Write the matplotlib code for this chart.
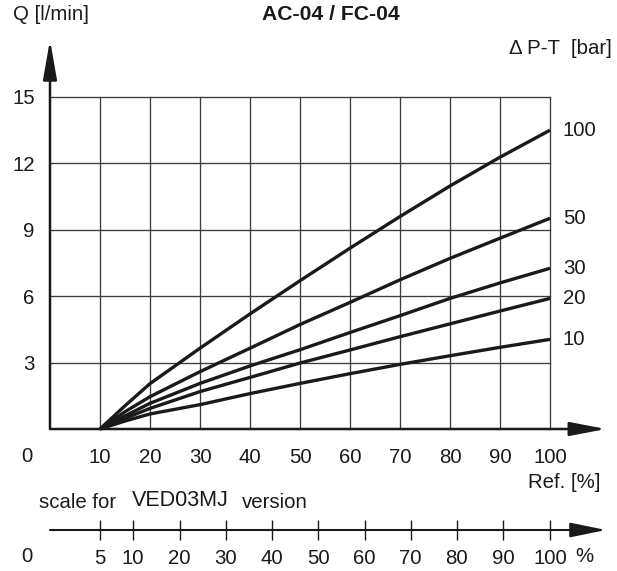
import numpy as np
import matplotlib
matplotlib.use("Agg")
import matplotlib.pyplot as plt

plt.rcParams["font.family"] = ["Liberation Sans", "DejaVu Sans"]

# Flow Q [l/min] versus reference signal [%] for each pressure drop ΔP-T [bar]
ref_pct = [10, 15, 20, 30, 40, 50, 60, 70, 80, 90, 100]
dp_labels = ["100", "50", "30", "20", "10"]
q_dp100 = [0, 1.05, 2.05, 3.65, 5.2, 6.7, 8.17, 9.6, 10.98, 12.28, 13.5]
q_dp50 = [0, 0.78, 1.46, 2.59, 3.65, 4.72, 5.72, 6.74, 7.71, 8.62, 9.52]
q_dp30 = [0, 0.59, 1.16, 2.06, 2.85, 3.58, 4.36, 5.12, 5.9, 6.6, 7.26]
q_dp20 = [0, 0.48, 0.93, 1.69, 2.33, 2.98, 3.57, 4.17, 4.75, 5.33, 5.9]
q_dp10 = [0, 0.36, 0.68, 1.1, 1.6, 2.06, 2.5, 2.92, 3.31, 3.69, 4.05]
curves = [q_dp100, q_dp50, q_dp30, q_dp20, q_dp10]

x_ticks = [10, 20, 30, 40, 50, 60, 70, 80, 90, 100]
y_ticks = [3, 6, 9, 12, 15]

# VED03MJ scale and the matching Ref. [%] value of each of its ticks
ved_ticks = [5, 10, 20, 30, 40, 50, 60, 70, 80, 90, 100]
ved_on_ref = [10, 16.6, 25.9, 35.1, 44.3, 53.6, 62.9, 72.1, 81.3, 90.6, 100]

W, H = 617, 571
fig = plt.figure(figsize=(W / 100, H / 100), dpi=100)


def fx(px):
    return px / W


def fy(py):
    return 1 - py / H


ink = "#1a1a1a"
grid_c = "#3c3c3c"
fs = 14.7

# main chart
ax = fig.add_axes([fx(50), fy(429), 500 / W, 332 / H])
ax.set_xlim(0, 100)
ax.set_ylim(0, 15)
ax.set_xticks(x_ticks)
ax.set_yticks(y_ticks)
ax.grid(True, color=grid_c, lw=0.95)
for gl in ax.get_xgridlines() + ax.get_ygridlines():
    gl.set_clip_on(False)
for s in ax.spines.values():
    s.set_visible(False)
ax.tick_params(length=0, labelsize=fs, colors=ink)
ax.tick_params(axis="x", pad=14)
ax.tick_params(axis="y", pad=11)

for q, lab in zip(curves, dp_labels):
    ax.plot(ref_pct, q, color=ink, lw=2.4, solid_capstyle="butt",
            solid_joinstyle="round", clip_on=False, zorder=3)
    ax.text(102.6, q[-1], lab, ha="left", va="center", fontsize=fs, color=ink)

arrow_kw = dict(lw=1.8, color=ink, shrinkA=0, shrinkB=0, mutation_scale=10)
ax.annotate("", xy=(0, 17.58), xytext=(0, 0),
            arrowprops=dict(arrowstyle="-|>,head_length=2.4,head_width=0.42", **arrow_kw),
            annotation_clip=False)
ax.annotate("", xy=(111.2, 0), xytext=(0, 0),
            arrowprops=dict(arrowstyle="-|>,head_length=2.2,head_width=0.42", **arrow_kw),
            annotation_clip=False)

# VED03MJ scale
ax2 = fig.add_axes([fx(50), fy(530), 500 / W, 10 / H])
ax2.set_xlim(0, 100)
ax2.set_ylim(0, 1)
ax2.patch.set_visible(False)
for s in ax2.spines.values():
    s.set_visible(False)
ax2.set_yticks([])
ax2.set_xticks(ved_on_ref)
ax2.set_xticklabels([str(v) for v in ved_ticks])
ax2.tick_params(axis="x", direction="inout", length=15, width=1.0, color=ink,
                labelsize=fs, labelcolor=ink, pad=6)
ax2.annotate("", xy=(111.2, 0), xytext=(0, 0),
             xycoords=("data", "axes fraction"), textcoords=("data", "axes fraction"),
             arrowprops=dict(arrowstyle="-|>,head_length=2.2,head_width=0.45",
                             lw=1.5, color=ink, shrinkA=0, shrinkB=0, mutation_scale=10),
             annotation_clip=False)

# labels and captions
fig.text(fx(13), fy(15), "Q [l/min]", ha="left", va="center", fontsize=fs, color=ink)
fig.text(fx(331), fy(15), "AC-04 / FC-04", ha="center", va="center",
         fontsize=15.2, fontweight="bold", color=ink)
fig.text(fx(612), fy(48), "\u0394 P-T  [bar]", ha="right", va="center", fontsize=fs, color=ink)
fig.text(fx(27), fy(457), "0", ha="center", va="center", fontsize=fs, color=ink)
fig.text(fx(600), fy(482), "Ref. [%]", ha="right", va="center", fontsize=fs, color=ink)
fig.text(fx(39), fy(502), "scale for", ha="left", va="center", fontsize=fs, color=ink)
fig.text(fx(132), fy(500), "VED03MJ", ha="left", va="center", fontsize=15.5, color=ink)
fig.text(fx(242), fy(502), "version", ha="left", va="center", fontsize=fs, color=ink)
fig.text(fx(27), fy(557), "0", ha="center", va="center", fontsize=fs, color=ink)
fig.text(fx(575), fy(557), "%", ha="left", va="center", fontsize=fs, color=ink)

fig.savefig("out.png", dpi=100)
